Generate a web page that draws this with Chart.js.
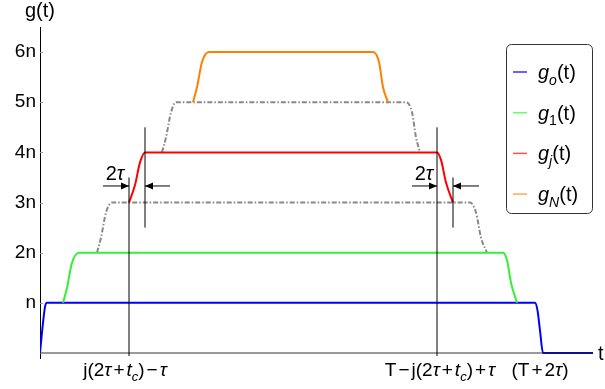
<!DOCTYPE html>
<html><head><meta charset="utf-8">
<script src="https://cdn.jsdelivr.net/npm/chart.js@4.4.0/dist/chart.umd.min.js"></script>
<style>html,body{margin:0;padding:0;background:#fff}#wrap{width:605px;height:389px;position:relative}</style>
</head><body><div id="wrap"><canvas id="c" width="605" height="389"></canvas></div>
<script>
const FONT = '"Liberation Sans", Arial, sans-serif';
// y values in units of n, x in time units
const yTicks = [1, 2, 3, 4, 5, 6];
const yTickLabels = ['n', '2n', '3n', '4n', '5n', '6n'];
const g0 = [[0,0],[3,0.6],[5,0.92],[7,1],[495,1],[497.5,0.85],[500,0.45],[503,0],[553,0]];
const g1 = [[23,1],[27,1.3],[32,1.8],[39,2],[463,2],[467,1.85],[471,1.4],[477,1]];
const gPrev = [[57,2],[61,2.3],[66,2.8],[72,3],[430,3],[436,2.8],[441,2.3],[447,2]];
const gj = [[89,3],[95,3.35],[100,3.8],[105,4],[397,4],[401,3.85],[406,3.4],[413,3]];
const gNext = [[122,4],[126,4.3],[131,4.8],[136,5],[366,5],[372,4.8],[376,4.3],[380,4]];
const gN = [[153,5],[157,5.3],[162,5.8],[169,6],[333,6],[339,5.8],[343,5.3],[348,5]];
const tAxis = [[0,0],[503,0]];
const vLines = [[[89,-0.06],[89,3.5]], [[105,2.5],[105,4.5]], [[397,-0.06],[397,4.5]], [[413,2.5],[413,3.5]]];
const arrows = [[[63,3.33],[89,3.33]], [[130,3.33],[105,3.33]], [[372,3.33],[397,3.33]], [[439,3.33],[413,3.33]]];
const widthLabelPos = [[75,3.59],[384,3.59]];
const xTickPos = [85, 400, 500];
// rich text parts: [text, style]  style: '' normal, 'i' italic, 's' sub, 'is' italic sub, 'o' operator
const xTickLabels = [
  [['j(2',''],['τ','i'],['+','o'],['t','i'],['c','is'],[')',''],['−','o'],['τ','i']],
  [['T','' ],['−','o'],['j(2',''],['τ','i'],['+','o'],['t','i'],['c','is'],[')',''],['+','o'],['τ','i']],
  [['(T',''],['+','o'],['2',''],['τ','i'],[')','']]
];
const legendItems = [
  {color:'#3030ff', parts:[['g','i'],['o','is'],['(t)','']]},
  {color:'#66ff66', parts:[['g','i'],['1','s'],['(t)','']]},
  {color:'#ff5050', parts:[['g','i'],['j','is'],['(t)','']]},
  {color:'#ffaa55', parts:[['g','i'],['N','is'],['(t)','']]}
];

const pts = a => a.map(([x,y]) => ({x, y}));
function line(data, color, extra) {
  return Object.assign({data: pts(data), borderColor: color, borderWidth: 2, pointRadius: 0,
    cubicInterpolationMode: 'monotone', fill: false}, extra || {});
}
function fontFor(style, size) {
  const sub = style.includes('s');
  const it = style.includes('i');
  return {font: (it ? 'italic ' : '') + (sub ? Math.round(size*0.68) : size) + 'px ' + FONT,
          dy: sub ? size*0.28 : 0, pad: style === 'o' ? 2 : 0};
}
function richWidth(ctx, parts, size) {
  let w = 0;
  parts.forEach(([t, s]) => { const f = fontFor(s, size); ctx.font = f.font; w += ctx.measureText(t).width + 2*f.pad; });
  return w;
}
function drawRich(ctx, parts, x, y, size, align) {
  const w = richWidth(ctx, parts, size);
  let cx = align === 'center' ? x - w/2 : (align === 'right' ? x - w : x);
  ctx.textAlign = 'left';
  ctx.textBaseline = 'alphabetic';
  ctx.fillStyle = '#000';
  parts.forEach(([t, s]) => {
    const f = fontFor(s, size);
    ctx.font = f.font;
    cx += f.pad;
    ctx.fillText(t, cx, y + f.dy);
    cx += ctx.measureText(t).width + f.pad;
  });
}

const datasets = [];
arrows.forEach(a => datasets.push(line(a, '#000', {borderWidth: 1, cubicInterpolationMode: 'default', tension: 0, arrow: true})));
vLines.forEach(a => datasets.push(line(a, '#000', {borderWidth: 1, cubicInterpolationMode: 'default', tension: 0})));
datasets.push(line(gN, '#ff8000'));
datasets.push(line(gj, '#ff0000'));
datasets.push(line(g1, '#33f033'));
datasets.push(line(g0, '#0000ff', {segment: {borderColor: c => c.p0.parsed.x >= 503 ? '#10108f' : undefined}}));
datasets.push(line(gNext, '#888888', {borderDash: [5,2,1.5,2]}));
datasets.push(line(gPrev, '#888888', {borderDash: [5,2,1.5,2]}));
datasets.push(line(tAxis, '#777777', {borderWidth: 1.5, cubicInterpolationMode: 'default', tension: 0}));

const decor = {
  id: 'decor',
  afterDatasetsDraw(chart) {
    const ctx = chart.ctx, xs = chart.scales.x, ys = chart.scales.y;
    ctx.save();
    // arrow heads
    chart.data.datasets.forEach((ds, i) => {
      if (!ds.arrow) return;
      const m = chart.getDatasetMeta(i).data;
      const p = m[m.length-1], q = m[m.length-2];
      const ang = Math.atan2(p.y - q.y, p.x - q.x);
      ctx.fillStyle = '#000';
      ctx.beginPath();
      ctx.moveTo(p.x, p.y);
      ctx.lineTo(p.x - 8*Math.cos(ang) + 3.5*Math.sin(ang), p.y - 8*Math.sin(ang) - 3.5*Math.cos(ang));
      ctx.lineTo(p.x - 8*Math.cos(ang) - 3.5*Math.sin(ang), p.y - 8*Math.sin(ang) + 3.5*Math.cos(ang));
      ctx.closePath();
      ctx.fill();
    });
    // y tick marks inside
    ctx.strokeStyle = '#999';
    ctx.lineWidth = 1;
    yTicks.forEach(v => {
      const y = Math.round(ys.getPixelForValue(v)) + 0.5;
      ctx.beginPath(); ctx.moveTo(xs.left, y); ctx.lineTo(xs.left + 3, y); ctx.stroke();
    });
    // 2τ labels
    widthLabelPos.forEach(([x, y]) => {
      drawRich(ctx, [['2',''],['τ','i']], xs.getPixelForValue(x), ys.getPixelForValue(y) + 7, 20, 'center');
    });
    // x tick labels
    xTickPos.forEach((x, i) => {
      drawRich(ctx, xTickLabels[i], xs.getPixelForValue(x), 376, 19, 'center');
    });
    // axis titles
    drawRich(ctx, [['g(t)','']], 55, 17, 20, 'right');
    drawRich(ctx, [['t','']], 598, 360, 20, 'left');
    // legend
    ctx.strokeStyle = '#333';
    ctx.lineWidth = 1;
    ctx.beginPath();
    ctx.roundRect(506.5, 44.5, 86, 169, 5);
    ctx.stroke();
    legendItems.forEach((it, i) => {
      const y = 72 + i * 40.7;
      ctx.strokeStyle = it.color;
      ctx.lineWidth = 1.5;
      ctx.beginPath(); ctx.moveTo(513, y); ctx.lineTo(527, y); ctx.stroke();
      drawRich(ctx, it.parts, 538, y + 7, 20, 'left');
    });
    ctx.restore();
  }
};

new Chart(document.getElementById('c'), {
  type: 'line',
  data: {datasets},
  options: {
    responsive: false, animation: false, devicePixelRatio: 1,
    layout: {padding: {top: 27, bottom: 31, left: 0, right: 12}},
    plugins: {legend: {display: false}, tooltip: {enabled: false}},
    scales: {
      x: {type: 'linear', min: 0, max: 553, display: false},
      y: {type: 'linear', min: -0.1, max: 6.5,
        afterFit: s => { s.width = 40; },
        afterBuildTicks: s => { s.ticks = yTicks.map(v => ({value: v})); },
        ticks: {callback: (v, i) => yTickLabels[i], font: {family: FONT, size: 19}, color: '#000', padding: 4},
        grid: {display: false, drawTicks: false},
        border: {display: true, color: '#000', width: 1}}
    }
  },
  plugins: [decor]
});
</script></body></html>
